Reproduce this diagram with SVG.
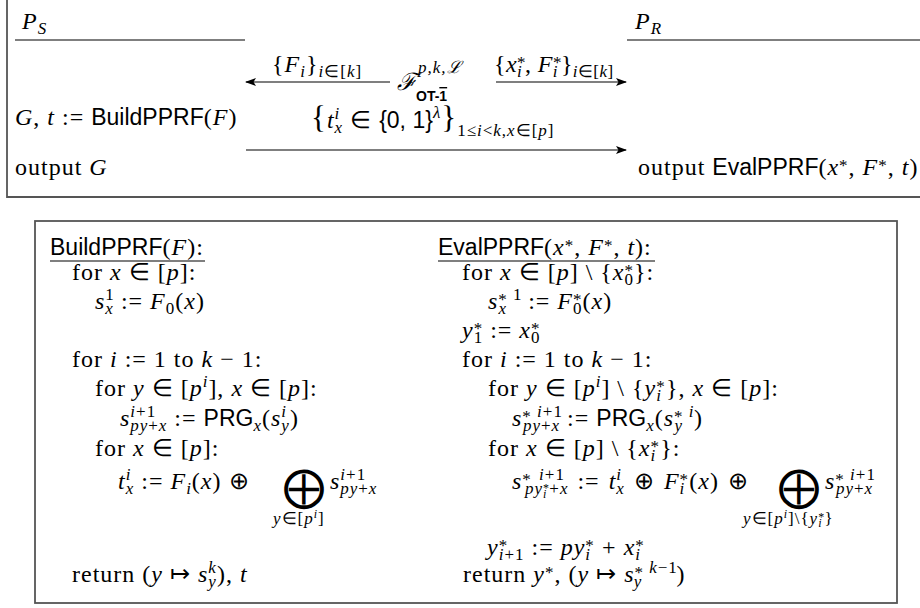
<svg xmlns="http://www.w3.org/2000/svg" width="920" height="608" viewBox="0 0 920 608">
<style>
.m{font-family:"Liberation Serif",serif;font-size:24px;letter-spacing:1px;fill:#000}
.i{font-style:italic}
.sf{font-family:"Liberation Sans",sans-serif;font-size:23px;font-style:normal;letter-spacing:0}
.sc{font-size:17px}
.ss{font-size:12px}
.ln{stroke:#000;stroke-width:1.1;fill:none}
.bx{fill:none;stroke:#555;stroke-width:1.8}
.cal{font-family:"DejaVu Serif",serif;font-style:italic}
.big{font-family:"DejaVu Sans",sans-serif;font-size:42px}
</style>
<defs>
<marker id="ah" markerWidth="11" markerHeight="8" refX="10" refY="4" orient="auto" markerUnits="userSpaceOnUse">
<path d="M0,0 L11,4 L0,8 L2.5,4 Z" fill="#000"/>
</marker>
</defs>
<rect width="920" height="608" fill="#fff"/>

<g id="protocol-frame">
<path class="bx" d="M7,0 V197 H920"/>
</g>

<g id="party-S">
<text class="m i" x="22" y="29">P<tspan class="sc" dy="5">S</tspan></text>
<line class="ln" x1="15" y1="40" x2="245" y2="40"/>
<text class="m" x="15" y="125"><tspan class="i">G</tspan>, <tspan class="i">t</tspan> := <tspan class="sf">BuildPPRF</tspan>(<tspan class="i">F</tspan>)</text>
<text class="m" x="15" y="175">output <tspan class="i">G</tspan></text>
</g>

<g id="party-R">
<text class="m i" x="635" y="29">P<tspan class="sc" dy="5">R</tspan></text>
<line class="ln" x1="627" y1="40" x2="920" y2="40"/>
<text class="m" x="638" y="175">output <tspan class="sf">EvalPPRF</tspan>(<tspan class="i">x</tspan><tspan class="sc" dy="-4">*</tspan><tspan dy="4">, </tspan><tspan class="i">F</tspan><tspan class="sc" dy="-4">*</tspan><tspan dy="4">, </tspan><tspan class="i">t</tspan>)</text>
</g>

<g id="functionality">
<text class="m cal" x="397" y="90" style="letter-spacing:0">ℱ</text>
<text class="m i sc" x="418" y="73">p,k,<tspan class="cal">ℒ</tspan></text>
<text class="sf" x="416" y="101" style="font-size:14px;font-weight:bold">OT-<tspan style="text-decoration:overline">1</tspan></text>
</g>

<g id="connectors">
<line class="ln" x1="390" y1="82" x2="246" y2="82" marker-end="url(#ah)"/>
<text class="m" x="272" y="72">{<tspan class="i">F</tspan><tspan class="sc i" dy="5">i</tspan><tspan dy="-5">}</tspan><tspan class="sc" dy="5"><tspan class="i">i</tspan>∈[<tspan class="i">k</tspan>]</tspan></text>
<line class="ln" x1="496" y1="82" x2="626" y2="82" marker-end="url(#ah)"/>
<text class="m" x="494" y="72" style="letter-spacing:0.4px">{<tspan class="i">x</tspan><tspan class="sc" dy="-4">*</tspan><tspan class="sc i" dx="-9" dy="9">i</tspan><tspan dx="3" dy="-5">, </tspan><tspan class="i">F</tspan><tspan class="sc" dy="-4">*</tspan><tspan class="sc i" dx="-9" dy="9">i</tspan><tspan dx="3" dy="-5">}</tspan><tspan class="sc" dy="5"><tspan class="i">i</tspan>∈[<tspan class="i">k</tspan>]</tspan></text>
<line class="ln" x1="246" y1="150" x2="626" y2="150" marker-end="url(#ah)"/>
<text class="m" x="311" y="128"><tspan style="font-size:31px">{</tspan><tspan class="i">t</tspan><tspan class="sc i" dy="-9">i</tspan><tspan class="sc i" dx="-5.7" dy="14">x</tspan><tspan dy="-5"> ∈ </tspan><tspan class="sf">{0, 1}</tspan><tspan class="sc i" dy="-10">λ</tspan><tspan dy="10" style="font-size:31px">}</tspan><tspan class="sc" dy="8">1≤<tspan class="i">i</tspan>&lt;<tspan class="i">k</tspan>,<tspan class="i">x</tspan>∈[<tspan class="i">p</tspan>]</tspan></text>
</g>

<g id="algorithms-frame">
<rect class="bx" x="35" y="221" width="862" height="382"/>
</g>

<g id="BuildPPRF">
<text class="m" x="50" y="255"><tspan class="sf">BuildPPRF</tspan>(<tspan class="i">F</tspan>):</text>
<line class="ln" x1="50" y1="261" x2="205" y2="261"/>
<text class="m" x="72" y="280">for <tspan class="i">x</tspan> ∈ [<tspan class="i">p</tspan>]:</text>
<text class="m" x="95" y="309"><tspan class="i">s</tspan><tspan class="sc" dy="-9">1</tspan><tspan class="sc i" dx="-9.5" dy="14">x</tspan><tspan dy="-5"> := </tspan><tspan class="i">F</tspan><tspan class="sc" dy="5">0</tspan><tspan dy="-5">(</tspan><tspan class="i">x</tspan>)</text>
<text class="m" x="72" y="367">for <tspan class="i">i</tspan> := 1 to <tspan class="i">k</tspan> − 1:</text>
<text class="m" x="95" y="396">for <tspan class="i">y</tspan> ∈ [<tspan class="i">p</tspan><tspan class="sc i" dy="-9">i</tspan><tspan dy="9">], </tspan><tspan class="i">x</tspan> ∈ [<tspan class="i">p</tspan>]:</text>
<text class="m" x="120" y="426"><tspan class="i">s</tspan><tspan class="sc" dy="-9"><tspan class="i">i</tspan>+1</tspan><tspan class="sc" dx="-26" dy="14"><tspan class="i">py</tspan>+<tspan class="i">x</tspan></tspan><tspan dy="-5"> := </tspan><tspan class="sf">PRG</tspan><tspan class="sc i" dy="5">x</tspan><tspan dy="-5">(</tspan><tspan class="i">s</tspan><tspan class="sc i" dy="-9">i</tspan><tspan class="sc i" dx="-5.7" dy="14">y</tspan><tspan dy="-5">)</tspan></text>
<text class="m" x="95" y="456">for <tspan class="i">x</tspan> ∈ [<tspan class="i">p</tspan>]:</text>
<text class="m" x="118" y="489"><tspan class="i">t</tspan><tspan class="sc i" dy="-9">i</tspan><tspan class="sc i" dx="-5.7" dy="14">x</tspan><tspan dy="-5"> := </tspan><tspan class="i">F</tspan><tspan class="sc i" dy="5">i</tspan><tspan dy="-5">(</tspan><tspan class="i">x</tspan>) ⊕</text>
<text class="big" x="283" y="501">⨁</text>
<text class="m" x="330" y="489"><tspan class="i">s</tspan><tspan class="sc" dy="-9"><tspan class="i">i</tspan>+1</tspan><tspan class="sc" dx="-26" dy="14"><tspan class="i">py</tspan>+<tspan class="i">x</tspan></tspan></text>
<text class="m sc" x="273" y="524"><tspan class="i">y</tspan>∈[<tspan class="i">p</tspan><tspan class="ss i" dy="-6">i</tspan><tspan dy="6">]</tspan></text>
<text class="m" x="72" y="582">return (<tspan class="i">y</tspan> ↦ <tspan class="i">s</tspan><tspan class="sc i" dy="-9">k</tspan><tspan class="sc i" dx="-8.5" dy="14">y</tspan><tspan dy="-5">), </tspan><tspan class="i">t</tspan></text>
</g>

<g id="EvalPPRF">
<text class="m" x="438" y="255"><tspan class="sf">EvalPPRF</tspan>(<tspan class="i">x</tspan><tspan class="sc" dy="-4">*</tspan><tspan dy="4">, </tspan><tspan class="i">F</tspan><tspan class="sc" dy="-4">*</tspan><tspan dy="4">, </tspan><tspan class="i">t</tspan>):</text>
<line class="ln" x1="438" y1="261" x2="655" y2="261"/>
<text class="m" x="462" y="280">for <tspan class="i">x</tspan> ∈ [<tspan class="i">p</tspan>] \ {<tspan class="i">x</tspan><tspan class="sc" dy="-4">*</tspan><tspan class="sc" dx="-9.5" dy="9">0</tspan><tspan dy="-5">}:</tspan></text>
<text class="m" x="488" y="309"><tspan class="i">s</tspan><tspan class="sc" dy="-4">*</tspan><tspan class="sc" dy="-5"> 1</tspan><tspan class="sc i" dx="-24" dy="14">x</tspan><tspan dx="14" dy="-5"> := </tspan><tspan class="i">F</tspan><tspan class="sc" dy="-4">*</tspan><tspan class="sc" dx="-9.5" dy="9">0</tspan><tspan dy="-5">(</tspan><tspan class="i">x</tspan>)</text>
<text class="m" x="462" y="338"><tspan class="i">y</tspan><tspan class="sc" dy="-4">*</tspan><tspan class="sc" dx="-9.5" dy="9">1</tspan><tspan dy="-5"> := </tspan><tspan class="i">x</tspan><tspan class="sc" dy="-4">*</tspan><tspan class="sc" dx="-9.5" dy="9">0</tspan></text>
<text class="m" x="462" y="367">for <tspan class="i">i</tspan> := 1 to <tspan class="i">k</tspan> − 1:</text>
<text class="m" x="488" y="396">for <tspan class="i">y</tspan> ∈ [<tspan class="i">p</tspan><tspan class="sc i" dy="-9">i</tspan><tspan dy="9">] \ {</tspan><tspan class="i">y</tspan><tspan class="sc" dy="-4">*</tspan><tspan class="sc i" dx="-9.5" dy="9">i</tspan><tspan dx="4" dy="-5">}, </tspan><tspan class="i">x</tspan> ∈ [<tspan class="i">p</tspan>]:</text>
<text class="m" x="512" y="426"><tspan class="i">s</tspan><tspan class="sc" dy="-4">*</tspan><tspan class="sc" dy="-5"> <tspan class="i">i</tspan>+1</tspan><tspan class="sc" dx="-40" dy="14"><tspan class="i">py</tspan>+<tspan class="i">x</tspan></tspan><tspan dy="-5"> := </tspan><tspan class="sf">PRG</tspan><tspan class="sc i" dy="5">x</tspan><tspan dy="-5">(</tspan><tspan class="i">s</tspan><tspan class="sc" dy="-4">*</tspan><tspan class="sc i" dy="-5"> i</tspan><tspan class="sc i" dx="-20" dy="14">y</tspan><tspan dx="11" dy="-5">)</tspan></text>
<text class="m" x="488" y="456">for <tspan class="i">x</tspan> ∈ [<tspan class="i">p</tspan>] \ {<tspan class="i">x</tspan><tspan class="sc" dy="-4">*</tspan><tspan class="sc i" dx="-9.5" dy="9">i</tspan><tspan dx="4" dy="-5">}:</tspan></text>
<text class="m" x="512" y="489" style="word-spacing:2px"><tspan class="i">s</tspan><tspan class="sc" dy="-4">*</tspan><tspan class="sc" dy="-5"> <tspan class="i">i</tspan>+1</tspan><tspan class="sc i" dx="-40" dy="14">py</tspan><tspan class="ss" dy="-2">*</tspan><tspan class="ss i" dx="-7" dy="6">i</tspan><tspan class="sc" dx="2" dy="-4">+<tspan class="i">x</tspan></tspan><tspan dy="-5"> := </tspan><tspan class="i">t</tspan><tspan class="sc i" dy="-9">i</tspan><tspan class="sc i" dx="-5.7" dy="14">x</tspan><tspan dy="-5"> ⊕ </tspan><tspan class="i">F</tspan><tspan class="sc" dy="-4">*</tspan><tspan class="sc i" dx="-9.5" dy="9">i</tspan><tspan dx="4" dy="-5">(</tspan><tspan class="i">x</tspan>) ⊕</text>
<text class="big" x="778" y="501">⨁</text>
<text class="m" x="825" y="489"><tspan class="i">s</tspan><tspan class="sc" dy="-4">*</tspan><tspan class="sc" dy="-5"> <tspan class="i">i</tspan>+1</tspan><tspan class="sc" dx="-40" dy="14"><tspan class="i">py</tspan>+<tspan class="i">x</tspan></tspan></text>
<text class="m sc" x="743" y="524"><tspan class="i">y</tspan>∈[<tspan class="i">p</tspan><tspan class="ss i" dy="-6">i</tspan><tspan dy="6">]\{</tspan><tspan class="i">y</tspan><tspan class="ss" dy="-3">*</tspan><tspan class="ss i" dx="-7" dy="6">i</tspan><tspan dx="2" dy="-3">}</tspan></text>
<text class="m" x="487" y="555"><tspan class="i">y</tspan><tspan class="sc" dy="-4">*</tspan><tspan class="sc" dx="-9.5" dy="9"><tspan class="i">i</tspan>+1</tspan><tspan dy="-5"> := </tspan><tspan class="i">py</tspan><tspan class="sc" dy="-4">*</tspan><tspan class="sc i" dx="-9.5" dy="9">i</tspan><tspan dx="4" dy="-5"> + </tspan><tspan class="i">x</tspan><tspan class="sc" dy="-4">*</tspan><tspan class="sc i" dx="-9.5" dy="9">i</tspan></text>
<text class="m" x="463" y="582">return <tspan class="i">y</tspan><tspan class="sc" dy="-4">*</tspan><tspan dy="4">, (</tspan><tspan class="i">y</tspan> ↦ <tspan class="i">s</tspan><tspan class="sc" dy="-4">*</tspan><tspan class="sc" dy="-5"> <tspan class="i">k</tspan>−1</tspan><tspan class="sc i" dx="-44" dy="14">y</tspan><tspan dx="34" dy="-5">)</tspan></text>
</g>
</svg>
